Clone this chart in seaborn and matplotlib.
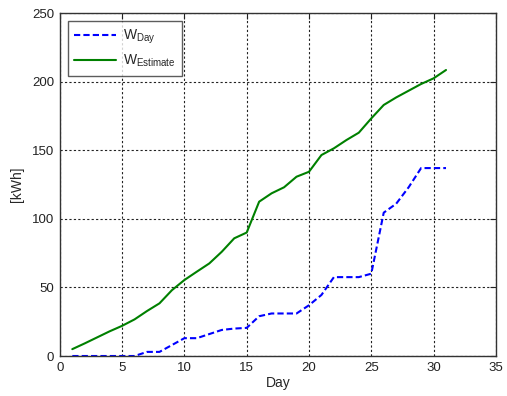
import matplotlib
matplotlib.use("Agg")
import matplotlib.pyplot as plt
import numpy as np
import pandas as pd
import seaborn as sns

sns.set_style("white")
plt.rcParams['font.family'] = ['Liberation Sans', 'DejaVu Sans']
plt.rcParams['mathtext.fontset'] = 'custom'
plt.rcParams['mathtext.rm'] = 'Liberation Sans'

days = list(range(1, 32))
w_day = [0, 0, 0, 0, 0, 0, 3, 3, 8, 13, 13, 16, 19, 20, 20.5,
         29, 31, 31, 31, 37, 44.5, 57.5, 57.5, 57.5, 60,
         104.5, 111, 123, 137, 137, 137]
w_est = [5, 9.2, 13.6, 18, 22, 26.7, 32.8, 38.4, 48, 55.4, 61.5, 67.5, 76, 85.8, 90,
         112.5, 118.6, 123, 130.7, 134.3, 146.5, 151.4, 157.4, 162.8, 173.2,
         183, 188.5, 193.4, 198.3, 202.4, 208.5]

df = pd.DataFrame({'Day': days, 'W_Day': w_day, 'W_Est': w_est})

fig = plt.figure(figsize=(5.07, 3.96), dpi=100)
ax = fig.add_axes([0.118, 0.101, 0.86, 0.866])

sns.lineplot(data=df, x='Day', y='W_Day', ax=ax, color='#0000ff', lw=1.5,
             linestyle=(0, (3, 1.5)), label=r'W$_{\mathrm{Day}}$')
sns.lineplot(data=df, x='Day', y='W_Est', ax=ax, color='#008000', lw=1.5,
             label=r'W$_{\mathrm{Estimate}}$')

ax.set_xlim(0, 35)
ax.set_ylim(0, 250)
ax.set_xticks(range(0, 36, 5))
ax.set_yticks(range(0, 251, 50))
ax.grid(True, color='#222222', linestyle=(0, (2, 2)), lw=0.8)
ax.tick_params(direction='in', top=True, right=True, length=4, labelsize=9.5,
               colors='#222222', pad=4)
for s in ax.spines.values():
    s.set_color('#333333')
    s.set_linewidth(1.0)
ax.set_xlabel('Day', fontsize=10, labelpad=2)
ax.set_ylabel('[kWh]', fontsize=10, labelpad=6)

leg = ax.legend(loc='upper left', fontsize=10, frameon=True, fancybox=False,
                edgecolor='#333333', borderaxespad=0.6, handlelength=3.0,
                handletextpad=0.5, labelspacing=0.5, borderpad=0.45)
leg.get_frame().set_linewidth(1.0)

fig.savefig('out.png', dpi=100)
